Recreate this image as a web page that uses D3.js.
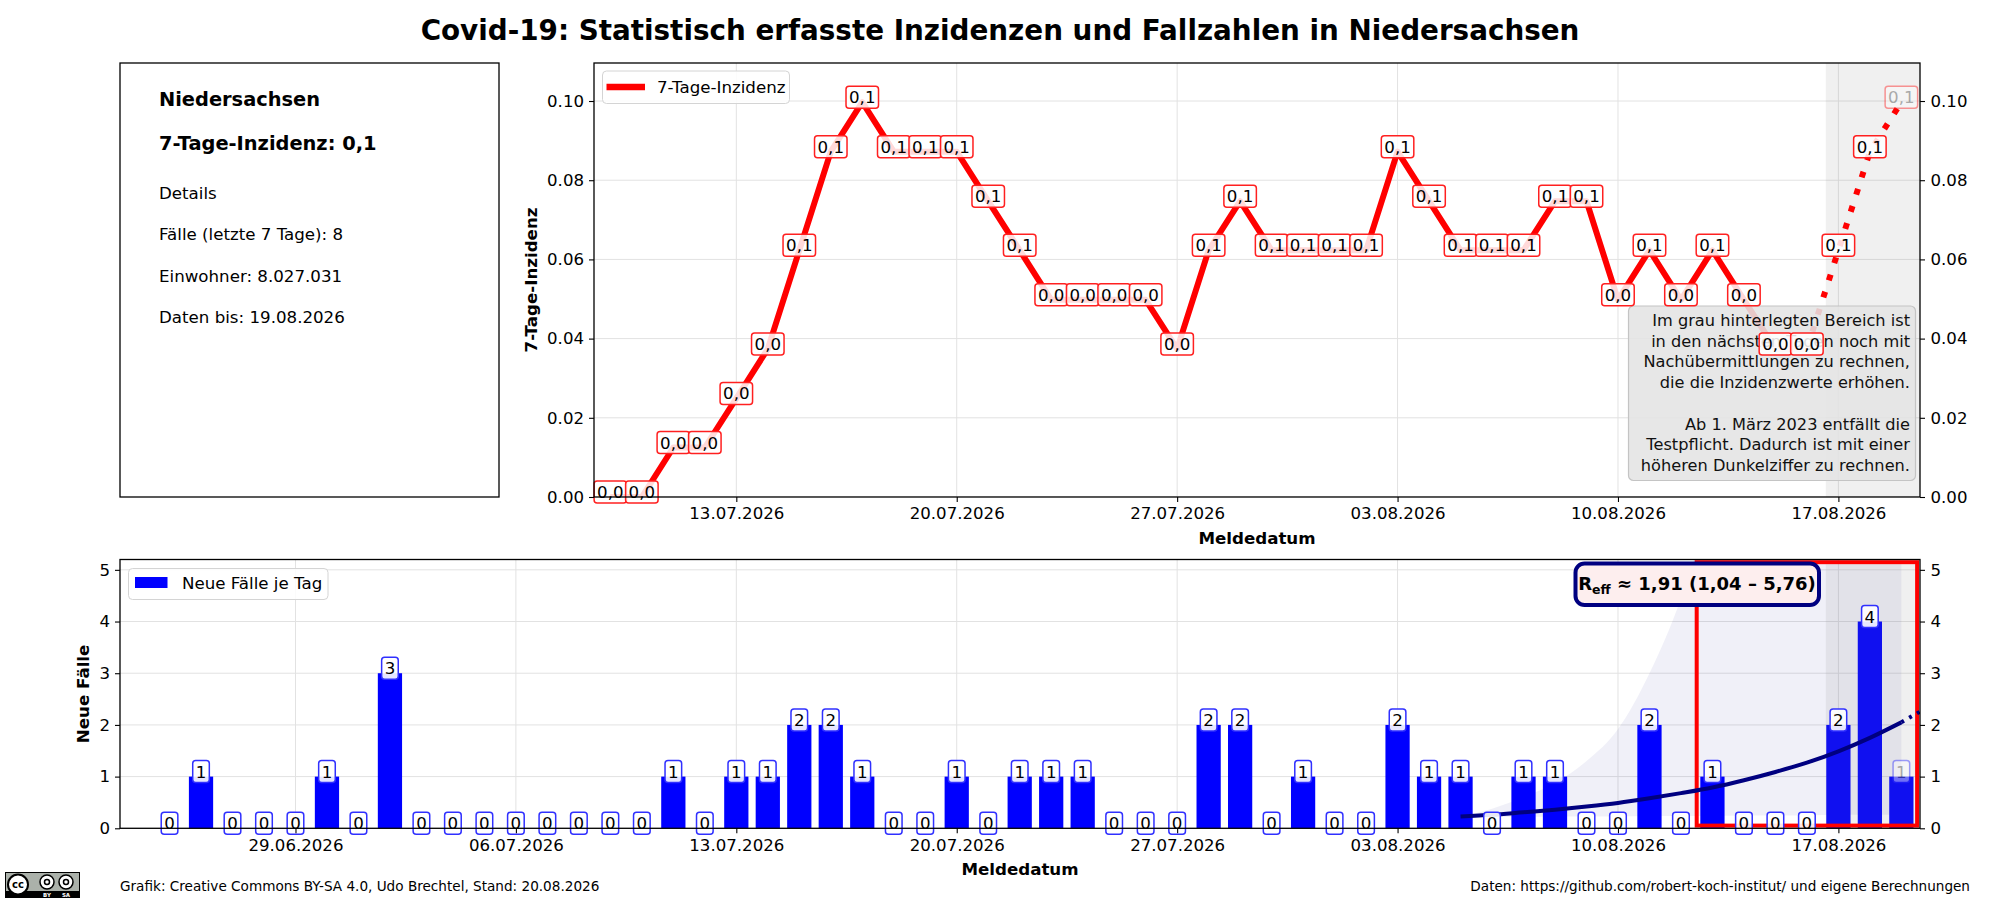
<!DOCTYPE html>
<html>
<head>
<meta charset="utf-8">
<script src="https://cdn.jsdelivr.net/npm/d3@7"></script>
<style>
  body { margin: 0; background: #fff; }
  svg { font-family: "DejaVu Sans", sans-serif; }
</style>
</head>
<body>
<div id="chart"></div>
<script>
const parseDay = d3.utcParse("%d.%m.%Y");

// ---- data ----
const caseDays = [
  "25.06.2026","26.06.2026","27.06.2026","28.06.2026","29.06.2026","30.06.2026","01.07.2026","02.07.2026",
  "03.07.2026","04.07.2026","05.07.2026","06.07.2026","07.07.2026","08.07.2026","09.07.2026","10.07.2026",
  "11.07.2026","12.07.2026","13.07.2026","14.07.2026","15.07.2026","16.07.2026","17.07.2026","18.07.2026",
  "19.07.2026","20.07.2026","21.07.2026","22.07.2026","23.07.2026","24.07.2026","25.07.2026","26.07.2026",
  "27.07.2026","28.07.2026","29.07.2026","30.07.2026","31.07.2026","01.08.2026","02.08.2026","03.08.2026",
  "04.08.2026","05.08.2026","06.08.2026","07.08.2026","08.08.2026","09.08.2026","10.08.2026","11.08.2026",
  "12.08.2026","13.08.2026","14.08.2026","15.08.2026","16.08.2026","17.08.2026","18.08.2026","19.08.2026"
];
const newCases = [
  0,1,0,0,0,1,0,3,
  0,0,0,0,0,0,0,0,
  1,0,1,1,2,2,1,0,
  0,1,0,1,1,1,0,0,
  0,2,2,0,1,0,0,2,
  1,1,0,1,1,0,0,2,
  0,1,0,0,0,2,4,1
];

const incidenceDays = caseDays.slice(14); // 09.07. - 19.08.
const incidence = [
  0.0000,0.0000,0.0125,0.0125,0.0249,0.0374,0.0623,0.0872,0.0997,0.0872,
  0.0872,0.0872,0.0747,0.0623,0.0498,0.0498,0.0498,0.0498,0.0374,0.0623,
  0.0747,0.0623,0.0623,0.0623,0.0623,0.0872,0.0747,0.0623,0.0623,0.0623,
  0.0747,0.0747,0.0498,0.0623,0.0498,0.0623,0.0498,0.0374,0.0374,0.0623,
  0.0872,0.0997
];
const provisionalFrom = "16.08.2026";

const reffDays = caseDays.slice(41); // 05.08. - 19.08.
const reffMid  = [0.23,0.26,0.31,0.36,0.42,0.49,0.58,0.68,0.79,0.93,1.09,1.27,1.49,1.75,2.05];
const reffLow  = [0.22,0.22,0.22,0.23,0.23,0.23,0.24,0.24,0.24,0.25,0.25,0.25,0.26,0.26,0.26];
const reffHigh = [0.23,0.38,0.60,0.88,1.30,1.92,3.00,4.45,6.50,9.50,14.0,20.0,29.0,42.0,60.0];
const reffTailDays = ["19.08.2026","20.08.2026"];
const reffTail = [2.05, 2.40];

const weekTicks = ["29.06.2026","06.07.2026","13.07.2026","20.07.2026","27.07.2026","03.08.2026","10.08.2026","17.08.2026"];
const incTicks = [0, 0.02, 0.04, 0.06, 0.08, 0.10];
const caseTicks = [0, 1, 2, 3, 4, 5];

const title = "Covid-19: Statistisch erfasste Inzidenzen und Fallzahlen in Niedersachsen";
const infoTitle = "Niedersachsen";
const infoHeadline = "7-Tage-Inzidenz: 0,1";
const infoDetails = ["Details", "Fälle (letzte 7 Tage): 8", "Einwohner: 8.027.031", "Daten bis: 19.08.2026"];
const noteLines = [
  "Im grau hinterlegten Bereich ist",
  "in den nächsten Tagen noch mit",
  "Nachübermittlungen zu rechnen,",
  "die die Inzidenzwerte erhöhen.",
  "",
  "Ab 1. März 2023 entfällt die",
  "Testpflicht. Dadurch ist mit einer",
  "höheren Dunkelziffer zu rechnen."
];
const reffText = { value: "1,91", low: "1,04", high: "5,76" };
const footerLeft = "Grafik: Creative Commons BY-SA 4.0, Udo Brechtel, Stand: 20.08.2026";
const footerRight = "Daten: https://github.com/robert-koch-institut/ und eigene Berechnungen";

// ---- layout ----
const svg = d3.select("#chart").append("svg")
  .attr("width", 2000).attr("height", 900)
  .style("background", "#fff");

const incBox = { left: 594, right: 1920, top: 63, bottom: 497 };
const caseBox = { left: 120, right: 1920, top: 559.5, bottom: 828.3 };

const xCases = d3.scaleUtc()
  .domain([d3.utcMinute.offset(parseDay("24.06.2026"), -825), d3.utcMinute.offset(parseDay("19.08.2026"), 852)])
  .range([caseBox.left, caseBox.right]);
const xInc = d3.scaleUtc()
  .domain([xCases.invert(incBox.left), xCases.domain()[1]])
  .range([incBox.left, incBox.right]);
const dayPx = xCases(parseDay("02.07.2026")) - xCases(parseDay("01.07.2026"));

const yInc = d3.scaleLinear().domain([0, 0.1096]).range([incBox.bottom, incBox.top]);
const yCases = d3.scaleLinear().domain([0, 5.2]).range([caseBox.bottom, caseBox.top]);

const fmtDate = d3.utcFormat("%d.%m.%Y");
const fmtInc = v => d3.format(".1f")(v).replace(".", ",");

const caseTickDates = weekTicks.map(parseDay);
const incTickDates = caseTickDates.filter(d => d >= xInc.domain()[0]);

const defs = svg.append("defs");
defs.append("clipPath").attr("id", "clipTop").append("rect")
  .attr("x", incBox.left).attr("y", incBox.top).attr("width", incBox.right - incBox.left).attr("height", incBox.bottom - incBox.top);
defs.append("clipPath").attr("id", "clipBot").append("rect")
  .attr("x", caseBox.left).attr("y", caseBox.top).attr("width", caseBox.right - caseBox.left).attr("height", caseBox.bottom - caseBox.top);

// title
svg.append("text").attr("x", 1000).attr("y", 40).attr("text-anchor", "middle")
  .attr("font-size", 27.8).attr("font-weight", "bold").text(title);

// ---- info box ----
svg.append("rect").attr("x", 120).attr("y", 63).attr("width", 379).attr("height", 434)
  .attr("fill", "none").attr("stroke", "#000").attr("stroke-width", 1.3);
svg.append("text").attr("x", 159).attr("y", 106).attr("font-size", 19.4).attr("font-weight", "bold").text(infoTitle);
svg.append("text").attr("x", 159).attr("y", 150).attr("font-size", 19.4).attr("font-weight", "bold").text(infoHeadline);
infoDetails.forEach((t, i) => {
  svg.append("text").attr("x", 159).attr("y", 199 + i * 41.3).attr("font-size", 16.67).text(t);
});

function labelBoxes(g, rows, stroke, fill) {
  const lab = g.selectAll(null).data(rows).enter().append("g")
    .attr("opacity", d => d.faded ? 0.45 : 1);
  lab.append("text")
    .attr("x", d => d.x).attr("y", d => d.y + 6)
    .attr("text-anchor", "middle").attr("font-size", 16.67)
    .attr("fill", d => d.faded ? "#555" : "#000")
    .text(d => d.t);
  lab.each(function (d) {
    const t = d3.select(this).select("text");
    const w = t.node().getComputedTextLength() + 6;
    d3.select(this).insert("rect", "text")
      .attr("x", d.x - w / 2).attr("y", d.y - 11).attr("width", w).attr("height", 22)
      .attr("rx", 3).attr("fill", fill).attr("stroke", stroke).attr("stroke-width", 1.5);
  });
}

// ---- top chart ----
const gTop = svg.append("g");
const topPlot = gTop.append("g").attr("clip-path", "url(#clipTop)");

topPlot.selectAll(".gx").data(incTickDates).enter().append("line")
  .attr("x1", d => xInc(d)).attr("x2", d => xInc(d)).attr("y1", incBox.top).attr("y2", incBox.bottom)
  .attr("stroke", "#e2e2e2").attr("stroke-width", 1);
topPlot.selectAll(".gy").data(incTicks).enter().append("line")
  .attr("x1", incBox.left).attr("x2", incBox.right).attr("y1", d => yInc(d)).attr("y2", d => yInc(d))
  .attr("stroke", "#e2e2e2").attr("stroke-width", 1);

const greyStartTop = xInc(d3.utcMinute.offset(parseDay("17.08.2026"), -576));
topPlot.append("rect")
  .attr("x", greyStartTop).attr("y", incBox.top)
  .attr("width", incBox.right - greyStartTop)
  .attr("height", incBox.bottom - incBox.top)
  .attr("fill", "rgba(128,128,128,0.12)");

const incRows = incidenceDays.map((d, i) => ({ date: parseDay(d), v: incidence[i] }));
const splitDate = parseDay(provisionalFrom);
const incLine = d3.line().x(d => xInc(d.date)).y(d => yInc(d.v));

topPlot.append("path").datum(incRows.filter(d => d.date <= splitDate))
  .attr("d", incLine).attr("fill", "none").attr("stroke", "#ff0000")
  .attr("stroke-width", 6).attr("stroke-linejoin", "round");
topPlot.append("path").datum(incRows.filter(d => d.date >= splitDate))
  .attr("d", incLine).attr("fill", "none").attr("stroke", "#ff0000")
  .attr("stroke-width", 6).attr("stroke-dasharray", "6,12");

// note box
const note = gTop.append("g");
note.append("rect").attr("x", 1628.5).attr("y", 306).attr("width", 287).attr("height", 174.5)
  .attr("rx", 5).attr("fill", "rgba(228,228,228,0.88)").attr("stroke", "#c4c4c4").attr("stroke-width", 1.2);
noteLines.forEach((t, i) => {
  note.append("text").attr("x", 1910).attr("y", 326 + i * 20.7).attr("text-anchor", "end")
    .attr("font-size", 16.2).attr("fill", "#111").text(t);
});

labelBoxes(gTop, incRows.map((d, i) => ({
  x: xInc(d.date), y: yInc(d.v) - 5, t: fmtInc(d.v), faded: i === incRows.length - 1
})), "#ff2020", "rgba(255,255,255,0.85)");

// axes top
gTop.append("g").attr("transform", `translate(0,${incBox.bottom})`)
  .call(d3.axisBottom(xInc).tickValues(incTickDates).tickFormat(fmtDate).tickSize(5).tickPadding(5.5).tickSizeOuter(0))
  .call(a => a.select(".domain").remove());
gTop.append("g").attr("transform", `translate(${incBox.left},0)`)
  .call(d3.axisLeft(yInc).tickValues(incTicks).tickFormat(d3.format(".2f")).tickSize(5).tickPadding(5).tickSizeOuter(0))
  .call(a => a.select(".domain").remove());
gTop.append("g").attr("transform", `translate(${incBox.right},0)`)
  .call(d3.axisRight(yInc).tickValues(incTicks).tickFormat(d3.format(".2f")).tickSize(5).tickPadding(5.5).tickSizeOuter(0))
  .call(a => a.select(".domain").remove());
gTop.append("rect").attr("x", incBox.left).attr("y", incBox.top)
  .attr("width", incBox.right - incBox.left).attr("height", incBox.bottom - incBox.top)
  .attr("fill", "none").attr("stroke", "#000").attr("stroke-width", 1.3);

gTop.append("text").attr("transform", `translate(537,${(incBox.top + incBox.bottom) / 2}) rotate(-90)`)
  .attr("text-anchor", "middle").attr("font-size", 16.67).attr("font-weight", "bold").text("7-Tage-Inzidenz");
gTop.append("text").attr("x", (incBox.left + incBox.right) / 2).attr("y", 543.5)
  .attr("text-anchor", "middle").attr("font-size", 16.67).attr("font-weight", "bold").text("Meldedatum");

// legend top
gTop.append("rect").attr("x", 602.5).attr("y", 71).attr("width", 187).attr("height", 32.5)
  .attr("rx", 4).attr("fill", "rgba(255,255,255,0.85)").attr("stroke", "#d4d4d4");
gTop.append("line").attr("x1", 606.5).attr("x2", 645).attr("y1", 87).attr("y2", 87)
  .attr("stroke", "#ff0000").attr("stroke-width", 6.5);
gTop.append("text").attr("x", 657).attr("y", 93).attr("font-size", 16.67).text("7-Tage-Inzidenz");

// ---- bottom chart ----
const gBot = svg.append("g");
const botPlot = gBot.append("g").attr("clip-path", "url(#clipBot)");

botPlot.selectAll(".gx").data(caseTickDates).enter().append("line")
  .attr("x1", d => xCases(d)).attr("x2", d => xCases(d)).attr("y1", caseBox.top).attr("y2", caseBox.bottom)
  .attr("stroke", "#e2e2e2").attr("stroke-width", 1);
botPlot.selectAll(".gy").data(caseTicks).enter().append("line")
  .attr("x1", caseBox.left).attr("x2", caseBox.right).attr("y1", d => yCases(d)).attr("y2", d => yCases(d))
  .attr("stroke", "#e2e2e2").attr("stroke-width", 1);

const reffRows = reffDays.map((d, i) => ({ date: parseDay(d), mid: reffMid[i], lo: reffLow[i], hi: reffHigh[i] }));
botPlot.append("path").datum(reffRows)
  .attr("d", d3.area().x(d => xCases(d.date)).y0(d => yCases(d.lo)).y1(d => yCases(d.hi)).curve(d3.curveMonotoneX))
  .attr("fill", "rgba(0,0,128,0.06)");

const caseRows = caseDays.map((d, i) => ({ date: parseDay(d), v: newCases[i] }));
const barW = dayPx * 0.77;
botPlot.selectAll(".bar").data(caseRows).enter().append("rect")
  .attr("x", d => xCases(d.date) - barW / 2).attr("width", barW)
  .attr("y", d => yCases(d.v)).attr("height", d => yCases(0) - yCases(d.v))
  .attr("fill", "#0000ff");

const boxTop = caseBox.top + 0.01 * (caseBox.bottom - caseBox.top);
const boxBottom = caseBox.bottom - 0.01 * (caseBox.bottom - caseBox.top);
const redX0 = xCases(d3.utcHour.offset(parseDay("13.08.2026"), -12));
const redX1 = xCases(d3.utcHour.offset(parseDay("19.08.2026"), 12));
const greyX0 = xCases(d3.utcMinute.offset(parseDay("17.08.2026"), -576));
botPlot.append("rect").attr("x", greyX0).attr("y", boxTop + 2)
  .attr("width", redX1 - greyX0).attr("height", boxBottom - boxTop - 2)
  .attr("fill", "rgba(128,128,128,0.12)");
botPlot.append("rect").attr("x", redX0).attr("y", boxTop)
  .attr("width", redX1 - redX0).attr("height", boxBottom - boxTop)
  .attr("fill", "none").attr("stroke", "#ff0000").attr("stroke-width", 4);

botPlot.append("path").datum(reffRows)
  .attr("d", d3.line().x(d => xCases(d.date)).y(d => yCases(d.mid)).curve(d3.curveMonotoneX))
  .attr("fill", "none").attr("stroke", "#000080").attr("stroke-width", 4);
botPlot.append("path").datum(reffTailDays.map((d, i) => ({ date: parseDay(d), v: reffTail[i] })))
  .attr("d", d3.line().x(d => xCases(d.date)).y(d => yCases(d.v)))
  .attr("fill", "none").attr("stroke", "#000080").attr("stroke-width", 4).attr("stroke-dasharray", "3,6");

labelBoxes(gBot, caseRows.map((d, i) => ({
  x: xCases(d.date), y: yCases(d.v) - 5, t: String(d.v), faded: i === caseRows.length - 1
})), "#3030ff", "rgba(255,255,255,0.9)");

// axes bottom
gBot.append("g").attr("transform", `translate(0,${caseBox.bottom})`)
  .call(d3.axisBottom(xCases).tickValues(caseTickDates).tickFormat(fmtDate).tickSize(5).tickPadding(5.5).tickSizeOuter(0))
  .call(a => a.select(".domain").remove());
gBot.append("g").attr("transform", `translate(${caseBox.left},0)`)
  .call(d3.axisLeft(yCases).tickValues(caseTicks).tickFormat(d3.format("d")).tickSize(5).tickPadding(5).tickSizeOuter(0))
  .call(a => a.select(".domain").remove());
gBot.append("g").attr("transform", `translate(${caseBox.right},0)`)
  .call(d3.axisRight(yCases).tickValues(caseTicks).tickFormat(d3.format("d")).tickSize(5).tickPadding(5.5).tickSizeOuter(0))
  .call(a => a.select(".domain").remove());
gBot.append("rect").attr("x", caseBox.left).attr("y", caseBox.top)
  .attr("width", caseBox.right - caseBox.left).attr("height", caseBox.bottom - caseBox.top)
  .attr("fill", "none").attr("stroke", "#000").attr("stroke-width", 1.3);

gBot.append("text").attr("transform", `translate(89,${(caseBox.top + caseBox.bottom) / 2}) rotate(-90)`)
  .attr("text-anchor", "middle").attr("font-size", 16.67).attr("font-weight", "bold").text("Neue Fälle");
gBot.append("text").attr("x", (caseBox.left + caseBox.right) / 2).attr("y", 875)
  .attr("text-anchor", "middle").attr("font-size", 16.67).attr("font-weight", "bold").text("Meldedatum");

// legend bottom
gBot.append("rect").attr("x", 128.5).attr("y", 568.5).attr("width", 199.5).attr("height", 31)
  .attr("rx", 4).attr("fill", "rgba(255,255,255,0.85)").attr("stroke", "#d4d4d4");
gBot.append("rect").attr("x", 135).attr("y", 577).attr("width", 32.5).attr("height", 11).attr("fill", "#0000ff");
gBot.append("text").attr("x", 182).attr("y", 589).attr("font-size", 16.67).text("Neue Fälle je Tag");

// R_eff box
const rb = gBot.append("g");
rb.append("rect").attr("x", 1575.5).attr("y", 563.5).attr("width", 243.5).attr("height", 41.5)
  .attr("rx", 9).attr("fill", "#fdeeee").attr("stroke", "#000080").attr("stroke-width", 4);
const rt = rb.append("text").attr("x", 1697).attr("y", 590).attr("text-anchor", "middle")
  .attr("font-size", 18).attr("font-weight", "bold").attr("fill", "#000");
rt.append("tspan").text("R");
rt.append("tspan").attr("font-size", 12.5).attr("dy", 4).text("eff");
rt.append("tspan").attr("dy", -4).text(` \u2248  ${reffText.value} (${reffText.low} \u2013 ${reffText.high})`);

// axis styling
svg.selectAll(".tick text").attr("font-size", 16.6).attr("fill", "#000").attr("font-family", "DejaVu Sans");
svg.selectAll(".tick line").attr("stroke", "#000").attr("stroke-width", 1.1);

// ---- footer ----
svg.append("text").attr("x", 120).attr("y", 891).attr("font-size", 13.6).text(footerLeft);
svg.append("text").attr("x", 1970).attr("y", 891).attr("text-anchor", "end").attr("font-size", 13.6).text(footerRight);

// CC BY-SA badge
const cc = svg.append("g").attr("transform", "translate(5,872)");
cc.append("rect").attr("width", 75).attr("height", 26).attr("fill", "#000");
cc.append("rect").attr("x", 1).attr("y", 1).attr("width", 73).attr("height", 18).attr("fill", "#abb1aa");
cc.append("circle").attr("cx", 13).attr("cy", 12.5).attr("r", 10).attr("fill", "#fff").attr("stroke", "#000").attr("stroke-width", 2);
cc.append("text").attr("x", 13).attr("y", 16).attr("text-anchor", "middle").attr("font-size", 10).attr("font-weight", "bold").text("cc");
[[42, "BY"], [61, "SA"]].forEach(([cx, lab]) => {
  cc.append("circle").attr("cx", cx).attr("cy", 10).attr("r", 7).attr("fill", "#fff").attr("stroke", "#000").attr("stroke-width", 1.5);
  cc.append("circle").attr("cx", cx).attr("cy", 10).attr("r", 2.5).attr("fill", "none").attr("stroke", "#000").attr("stroke-width", 1.5);
  cc.append("text").attr("x", cx).attr("y", 24.5).attr("text-anchor", "middle").attr("font-size", 5.5)
    .attr("font-weight", "bold").attr("fill", "#fff").text(lab);
});
</script>
</body>
</html>
